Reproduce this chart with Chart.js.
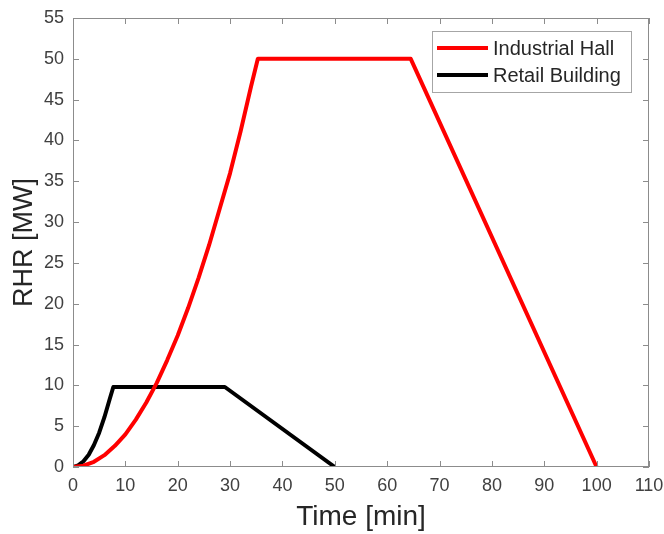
<!DOCTYPE html>
<html>
<head>
<meta charset="utf-8">
<script src="https://cdn.jsdelivr.net/npm/chart.js@4.4.1/dist/chart.umd.min.js"></script>
<style>
  body { margin: 0; background: #fff; }
  #wrap { width: 664px; height: 534px; position: relative; }
</style>
</head>
<body>
<div id="wrap"><canvas id="myChart"></canvas></div>
<script>
const timeIndustrial = [0, 2, 4, 6, 8, 10, 12, 14, 16, 18, 20, 22, 24, 26, 28, 30, 32, 34, 35.3, 64.5, 100];
const rhrIndustrial = [0, 0.16, 0.64, 1.45, 2.6, 4.0, 5.8, 7.9, 10.3, 13.1, 16.1, 19.5, 23.2, 27.2, 31.6, 36.0, 41.1, 46.6, 50, 50, 0];

const timeRetail = [0, 1, 2, 3, 4, 5, 6, 7, 7.7, 29, 50];
const rhrRetail = [0, 0.2, 0.7, 1.5, 2.7, 4.2, 6.1, 8.3, 9.8, 9.8, 0];

const seriesNames = ["Industrial Hall", "Retail Building"];
const seriesColors = ["#ff0000", "#000000"];

const xTicks = [0, 10, 20, 30, 40, 50, 60, 70, 80, 90, 100, 110];
const yTicks = [0, 5, 10, 15, 20, 25, 30, 35, 40, 45, 50, 55];

const font = "'Liberation Sans', Arial, sans-serif";
const axisColor = "#8c8c8c";
const textColor = "#404040";

function toPoints(xs, ys) {
  return xs.map((x, i) => ({ x: x, y: ys[i] }));
}

// box around the axes, ticks pointing inward, legend inside the plot
const matlabAxes = {
  id: "matlabAxes",
  afterDatasetsDraw(chart) {
    const ctx = chart.ctx;
    const a = chart.chartArea;
    const xs = chart.scales.x;
    const ys = chart.scales.y;
    ctx.save();
    ctx.strokeStyle = axisColor;
    ctx.lineWidth = 1;
    ctx.strokeRect(a.left + 0.5, a.top + 0.5, a.right - a.left - 1, a.bottom - a.top - 1);
    ctx.beginPath();
    xTicks.forEach((v) => {
      const px = Math.round(xs.getPixelForValue(v)) + 0.5;
      ctx.moveTo(px, a.bottom);
      ctx.lineTo(px, a.bottom - 6);
      ctx.moveTo(px, a.top);
      ctx.lineTo(px, a.top + 6);
    });
    yTicks.forEach((v) => {
      const py = Math.round(ys.getPixelForValue(v)) + 0.5;
      ctx.moveTo(a.left, py);
      ctx.lineTo(a.left + 6, py);
      ctx.moveTo(a.right, py);
      ctx.lineTo(a.right - 6, py);
    });
    ctx.stroke();

    // legend
    const bw = 199, bh = 61;
    const bx = a.right - 18 - bw;
    const by = a.top + 13;
    ctx.fillStyle = "#fff";
    ctx.fillRect(bx, by, bw, bh);
    ctx.strokeStyle = "#a6a6a6";
    ctx.lineWidth = 1;
    ctx.strokeRect(bx + 0.5, by + 0.5, bw, bh);
    ctx.font = "20px " + font;
    ctx.textBaseline = "middle";
    seriesNames.forEach((name, i) => {
      const ly = by + 17 + i * 27;
      ctx.strokeStyle = seriesColors[i];
      ctx.lineWidth = 4;
      ctx.beginPath();
      ctx.moveTo(bx + 5, ly);
      ctx.lineTo(bx + 56, ly);
      ctx.stroke();
      ctx.fillStyle = "#262626";
      ctx.fillText(name, bx + 61, ly + 1);
    });
    ctx.restore();
  },
};

const chart = new Chart("myChart", {
  type: "line",
  data: {
    datasets: [
      {
        label: seriesNames[0],
        data: toPoints(timeIndustrial, rhrIndustrial),
        borderColor: seriesColors[0],
        borderWidth: 4,
        borderJoinStyle: "round",
        pointRadius: 0,
        tension: 0,
      },
      {
        label: seriesNames[1],
        data: toPoints(timeRetail, rhrRetail),
        borderColor: seriesColors[1],
        borderWidth: 4,
        borderJoinStyle: "round",
        pointRadius: 0,
        tension: 0,
      },
    ],
  },
  options: {
    responsive: true,
    maintainAspectRatio: false,
    animation: false,
    layout: { padding: { top: 18, right: 15, left: 0, bottom: 0 } },
    plugins: {
      legend: { display: false },
      tooltip: { enabled: false },
    },
    scales: {
      x: {
        type: "linear",
        min: 0,
        max: 110,
        afterBuildTicks: (scale) => {
          scale.ticks = xTicks.map((v) => ({ value: v }));
        },
        afterFit: (scale) => {
          scale.height = 67;
          scale.paddingLeft = 0;
          scale.paddingRight = 0;
        },
        grid: { drawOnChartArea: false, drawTicks: false },
        border: { display: false },
        ticks: {
          color: textColor,
          font: { family: font, size: 18 },
          padding: 8,
          maxRotation: 0,
        },
        title: {
          display: true,
          text: "Time [min]",
          color: "#262626",
          font: { family: font, size: 28 },
          padding: { top: 2, bottom: 0 },
        },
      },
      y: {
        type: "linear",
        min: 0,
        max: 55,
        afterBuildTicks: (scale) => {
          scale.ticks = yTicks.map((v) => ({ value: v }));
        },
        afterFit: (scale) => {
          scale.width = 73;
          scale.paddingTop = 0;
          scale.paddingBottom = 0;
        },
        grid: { drawOnChartArea: false, drawTicks: false },
        border: { display: false },
        ticks: {
          color: textColor,
          font: { family: font, size: 18 },
          padding: 9,
        },
        title: {
          display: true,
          text: "RHR [MW]",
          color: "#262626",
          font: { family: font, size: 27 },
          padding: { top: 8, bottom: 0 },
        },
      },
    },
  },
  plugins: [matlabAxes],
});
</script>
</body>
</html>
